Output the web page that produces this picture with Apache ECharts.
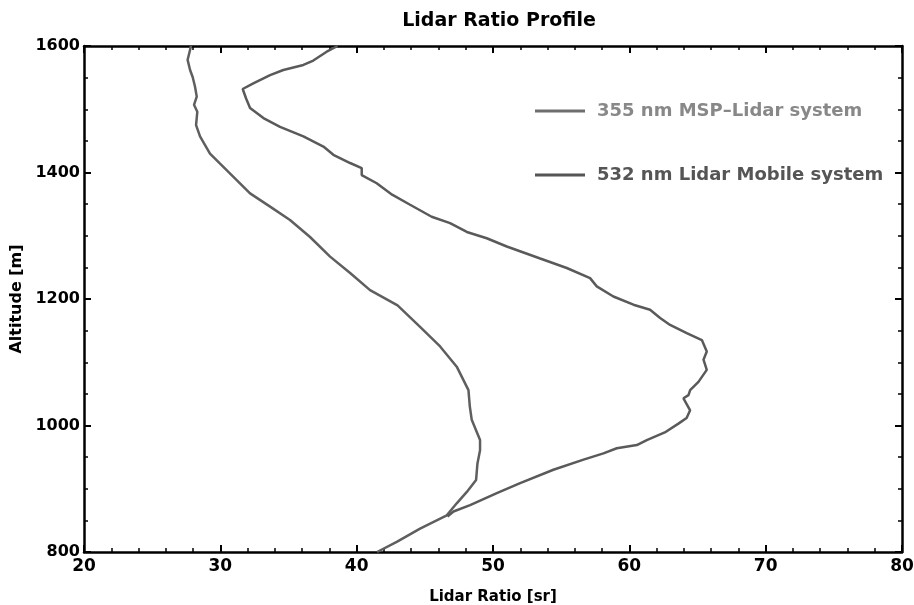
<!DOCTYPE html>
<html>
<head>
<meta charset="utf-8">
<script src="https://cdn.jsdelivr.net/npm/echarts@6/dist/echarts.min.js"></script>
<style>html,body{margin:0;padding:0;background:#fff}#c{width:914px;height:605px}</style>
</head>
<body>
<div id="c"></div>
<script>
var xTicks = [20, 30, 40, 50, 60, 70, 80];
var yTicks = [800, 1000, 1200, 1400, 1600];

var alt355 = [1600,1578,1562,1551,1536,1520,1507,1496,1475,1457,1430,1414,1388,1367,1346,1325,1298,1267,1241,1214,1190,1156,1125,1093,1056,1030,1009,977,961,940,914,895,877,858,837,816,800];
var lr355  = [27.85,27.6,27.78,27.97,28.14,28.27,28.07,28.31,28.22,28.51,29.24,29.98,31.2,32.18,33.65,35.11,36.58,38.05,39.52,40.98,43.0,44.65,46.12,47.34,48.2,48.3,48.44,49.05,49.05,48.86,48.76,48.08,47.34,46.61,44.65,42.94,41.5];

var alt532 = [1600,1591,1577,1570,1562,1554,1541,1532,1517,1502,1486,1472,1457,1441,1428,1415,1407,1396,1383,1365,1349,1330,1320,1306,1296,1283,1264,1249,1233,1220,1204,1191,1183,1170,1159,1146,1135,1117,1104,1088,1069,1056,1048,1043,1024,1012,1003,989,977,969,964,956,946,930,909,893,874,864,856];
var lr532  = [38.6,37.8,36.82,36.09,34.62,33.65,32.42,31.64,31.89,32.18,33.16,34.38,36.09,37.56,38.29,39.52,40.37,40.37,41.47,42.6,43.92,45.5,46.85,48.08,49.54,51.01,53.46,55.41,57.12,57.61,58.83,60.3,61.52,62.26,62.99,64.21,65.32,65.68,65.44,65.68,65.07,64.46,64.34,63.97,64.46,64.2,63.6,62.6,61.28,60.55,59.08,58.1,56.64,54.43,51.99,50.28,48.32,47.1,46.66];

var seriesNames = ['355 nm MSP\u2013Lidar system', '532 nm Lidar Mobile system'];

function pairs(xs, ys) { return xs.map(function (v, i) { return [v, ys[i]]; }); }

var FONT = 'DejaVu Sans';
function xAxisCfg(pos, show) {
  return {
    type: 'value', position: pos, min: xTicks[0], max: xTicks[xTicks.length - 1], interval: 10,
    axisLine: { show: true, onZero: false, lineStyle: { color: '#000', width: 2.5 } },
    axisTick: { show: true, inside: true, length: 7, lineStyle: { color: '#000', width: 2 } },
    minorTick: { show: true, splitNumber: 5, length: 4, lineStyle: { color: '#000', width: 1.5 } },
    splitLine: { show: false }, minorSplitLine: { show: false },
    axisLabel: { show: show, color: '#000', fontFamily: FONT, fontWeight: 'bold', fontSize: 17, margin: 6,
                 formatter: function (v) { return String(v); } },
    name: show ? 'Lidar Ratio [sr]' : '', nameLocation: 'middle', nameGap: 38,
    nameTextStyle: { color: '#000', fontFamily: FONT, fontWeight: 'bold', fontSize: 15 }
  };
}
function yAxisCfg(pos, show) {
  return {
    type: 'value', position: pos, min: yTicks[0], max: yTicks[yTicks.length - 1], interval: 200,
    axisLine: { show: true, onZero: false, lineStyle: { color: '#000', width: 2.5 } },
    axisTick: { show: true, inside: true, length: 7, lineStyle: { color: '#000', width: 2 } },
    minorTick: { show: true, splitNumber: 4, length: 4, lineStyle: { color: '#000', width: 1.5 } },
    splitLine: { show: false }, minorSplitLine: { show: false },
    axisLabel: { show: show, color: '#000', fontFamily: FONT, fontWeight: 'bold', fontSize: 16, margin: 4,
                 formatter: function (v) { return String(v); } },
    name: show ? 'Altitude [m]' : '', nameLocation: 'middle', nameGap: 49,
    nameTextStyle: { color: '#000', fontFamily: FONT, fontWeight: 'bold', fontSize: 16 }
  };
}

var chart = echarts.init(document.getElementById('c'), null, { renderer: 'canvas' });
chart.setOption({
  backgroundColor: '#fff',
  animation: false,
  title: {
    text: 'Lidar Ratio Profile', left: 494, top: 7, textAlign: 'center',
    textStyle: { color: '#000', fontFamily: FONT, fontWeight: 'bold', fontSize: 19 }
  },
  grid: { left: 84, right: 12, top: 46, bottom: 53, containLabel: false, outerBoundsMode: 'none' },
  legend: {
    orient: 'vertical', left: 535, top: 102, padding: 0, itemWidth: 50, itemHeight: 3, itemGap: 46,
    icon: 'rect',
    data: [
      { name: seriesNames[0], itemStyle: { color: '#6e6e6e' }, textStyle: { color: '#888888' } },
      { name: seriesNames[1], itemStyle: { color: '#555555' }, textStyle: { color: '#555555' } }
    ],
    textStyle: { fontFamily: FONT, fontWeight: 'bold', fontSize: 18, padding: [0, 0, 0, 7] }
  },
  xAxis: [xAxisCfg('bottom', true), xAxisCfg('top', false)],
  yAxis: [yAxisCfg('left', true), yAxisCfg('right', false)],
  series: [
    {
      name: seriesNames[0], type: 'line', xAxisIndex: 0, yAxisIndex: 0,
      data: pairs(lr355, alt355), symbol: 'none', smooth: false,
      lineStyle: { color: '#5f5f5f', width: 2.5 }, itemStyle: { color: '#6e6e6e' }
    },
    {
      name: seriesNames[1], type: 'line', xAxisIndex: 0, yAxisIndex: 0,
      data: pairs(lr532, alt532), symbol: 'none', smooth: false,
      lineStyle: { color: '#5a5a5a', width: 2.5 }, itemStyle: { color: '#555555' }
    }
  ]
});
</script>
</body>
</html>
